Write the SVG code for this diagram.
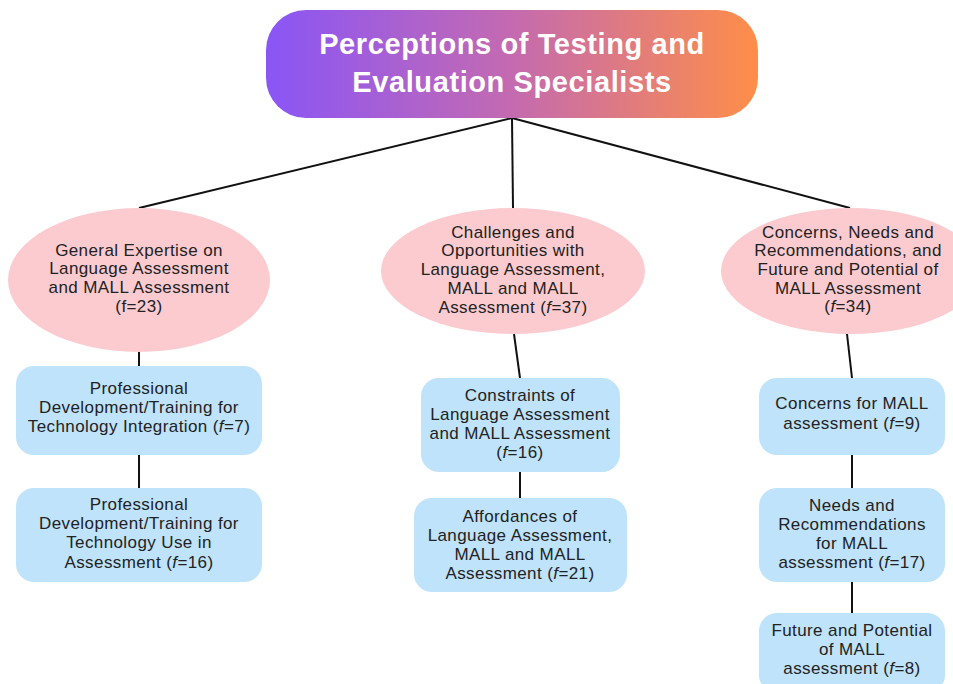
<svg xmlns="http://www.w3.org/2000/svg" width="953" height="684" viewBox="0 0 953 684">
<defs>
<linearGradient id="tg" x1="0" y1="0" x2="1" y2="0">
<stop offset="0" stop-color="#8A55F7"/>
<stop offset="0.5" stop-color="#C46AB0"/>
<stop offset="1" stop-color="#FF8E48"/>
</linearGradient>
<style>
.t{font-family:"Liberation Sans",Arial,sans-serif;font-size:17px;letter-spacing:0.4px;fill:#222;text-anchor:middle;dominant-baseline:central}
.h{font-family:"Liberation Sans",Arial,sans-serif;font-size:29px;letter-spacing:0.6px;font-weight:bold;fill:#fff;text-anchor:middle;dominant-baseline:central}
.e{fill:#FBCBD0}
.b{fill:#BFE3FA}
.c line{stroke:#111;stroke-width:2}
</style>
</defs>
<rect width="953" height="684" fill="#fff"/>
<g class="c" id="connectors">
<line x1="512" y1="118" x2="139" y2="208"/>
<line x1="512" y1="118" x2="513" y2="208"/>
<line x1="512" y1="118" x2="850" y2="208"/>
<line x1="139" y1="352" x2="139" y2="366"/>
<line x1="139" y1="455" x2="139" y2="488"/>
<line x1="514" y1="334" x2="520" y2="378"/>
<line x1="520" y1="472" x2="520" y2="498"/>
<line x1="847" y1="334" x2="852" y2="378"/>
<line x1="852" y1="455" x2="852" y2="488"/>
<line x1="852" y1="582" x2="852" y2="613"/>
</g>
<g id="root">
<rect x="266" y="10" width="492" height="108" rx="40" fill="url(#tg)"/>
<text class="h" x="512" y="44">Perceptions of Testing and</text>
<text class="h" x="512" y="82">Evaluation Specialists</text>
</g>
<g id="n1">
<ellipse class="e" cx="139" cy="280" rx="131" ry="72"/>
<text class="t" x="139" y="250">General Expertise on</text>
<text class="t" x="139" y="268">Language Assessment</text>
<text class="t" x="139" y="287">and MALL Assessment</text>
<text class="t" x="139" y="306">(f=23)</text>
</g>
<g id="n2">
<ellipse class="e" cx="513" cy="271" rx="132" ry="63"/>
<text class="t" x="513" y="232">Challenges and</text>
<text class="t" x="513" y="250">Opportunities with</text>
<text class="t" x="513" y="269">Language Assessment,</text>
<text class="t" x="513" y="288">MALL and MALL</text>
<text class="t" x="513" y="307">Assessment (<tspan font-style="italic">f</tspan>=37)</text>
</g>
<g id="n3">
<ellipse class="e" cx="851" cy="271" rx="130" ry="63"/>
<text class="t" x="848" y="232">Concerns, Needs and</text>
<text class="t" x="848" y="250">Recommendations, and</text>
<text class="t" x="848" y="269">Future and Potential of</text>
<text class="t" x="848" y="288">MALL Assessment</text>
<text class="t" x="848" y="306">(<tspan font-style="italic">f</tspan>=34)</text>
</g>
<g id="n4">
<rect class="b" x="16" y="366" width="246" height="89" rx="18"/>
<text class="t" x="139" y="388">Professional</text>
<text class="t" x="139" y="407">Development/Training for</text>
<text class="t" x="139" y="426">Technology Integration (<tspan font-style="italic">f</tspan>=7)</text>
</g>
<g id="n5">
<rect class="b" x="16" y="488" width="246" height="94" rx="18"/>
<text class="t" x="139" y="504">Professional</text>
<text class="t" x="139" y="523">Development/Training for</text>
<text class="t" x="139" y="542">Technology Use in</text>
<text class="t" x="139" y="562">Assessment (<tspan font-style="italic">f</tspan>=16)</text>
</g>
<g id="n6">
<rect class="b" x="421" y="378" width="199" height="94" rx="18"/>
<text class="t" x="520" y="395">Constraints of</text>
<text class="t" x="520" y="414">Language Assessment</text>
<text class="t" x="520" y="433">and MALL Assessment</text>
<text class="t" x="520" y="452">(<tspan font-style="italic">f</tspan>=16)</text>
</g>
<g id="n7">
<rect class="b" x="414" y="498" width="213" height="94" rx="18"/>
<text class="t" x="520" y="516">Affordances of</text>
<text class="t" x="520" y="535">Language Assessment,</text>
<text class="t" x="520" y="554">MALL and MALL</text>
<text class="t" x="520" y="573">Assessment (<tspan font-style="italic">f</tspan>=21)</text>
</g>
<g id="n8">
<rect class="b" x="759" y="378" width="186" height="77" rx="18"/>
<text class="t" x="852" y="403">Concerns for MALL</text>
<text class="t" x="852" y="423">assessment (<tspan font-style="italic">f</tspan>=9)</text>
</g>
<g id="n9">
<rect class="b" x="759" y="488" width="186" height="94" rx="18"/>
<text class="t" x="852" y="505">Needs and</text>
<text class="t" x="852" y="524">Recommendations</text>
<text class="t" x="852" y="543">for MALL</text>
<text class="t" x="852" y="562">assessment (<tspan font-style="italic">f</tspan>=17)</text>
</g>
<g id="n10">
<rect class="b" x="759" y="613" width="186" height="80" rx="18"/>
<text class="t" x="852" y="630">Future and Potential</text>
<text class="t" x="852" y="649">of MALL</text>
<text class="t" x="852" y="668">assessment (<tspan font-style="italic">f</tspan>=8)</text>
</g>
</svg>
